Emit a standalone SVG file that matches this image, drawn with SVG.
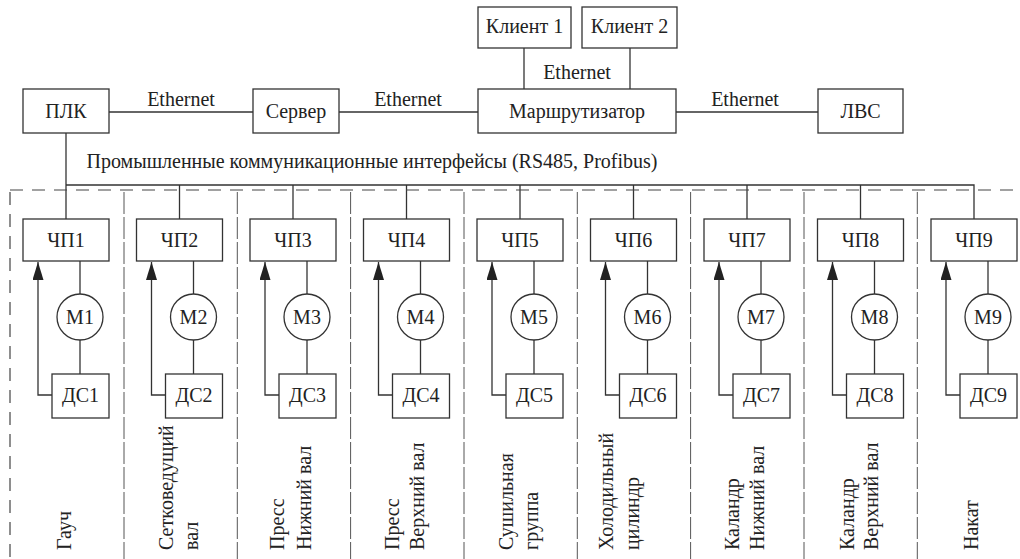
<svg xmlns="http://www.w3.org/2000/svg" width="1020" height="559" viewBox="0 0 1020 559" font-family="'Liberation Serif', 'Times New Roman', 'DejaVu Serif', serif">
<defs>
<style>
.box{fill:#fff;stroke:#333;stroke-width:1.3}
.ln{fill:none;stroke:#333;stroke-width:1.3}
.dash{fill:none;stroke:#444;stroke-width:1.2;stroke-dasharray:13 9}
.sep{fill:none;stroke:#555;stroke-width:1;stroke-dasharray:22 3}
text{font-family:'Liberation Serif','Times New Roman','DejaVu Serif',serif;font-size:20px;fill:#222}
.c{text-anchor:middle}
.v{text-anchor:start}
</style>
<marker id="ah" viewBox="0 0 18 11" refX="18" refY="5.5" markerWidth="18" markerHeight="11" markerUnits="userSpaceOnUse" orient="auto">
<path d="M0,0 L18,5.5 L0,11 Z" fill="#222"/>
</marker>
</defs>
<rect width="1020" height="559" fill="#fff"/>

<g id="connectors">
<line class="ln" x1="109" y1="112" x2="253" y2="112"/>
<line class="ln" x1="339" y1="112" x2="478" y2="112"/>
<line class="ln" x1="676" y1="112" x2="818" y2="112"/>
<line class="ln" x1="524" y1="48" x2="524" y2="89"/>
<line class="ln" x1="630" y1="48" x2="630" y2="89"/>
<line class="ln" x1="66" y1="133" x2="66" y2="219"/>
<polyline class="ln" points="66,185 974,185 974,219"/>
<line class="ln" x1="179.5" y1="185" x2="179.5" y2="219"/>
<line class="ln" x1="293" y1="185" x2="293" y2="219"/>
<line class="ln" x1="406.5" y1="185" x2="406.5" y2="219"/>
<line class="ln" x1="520" y1="185" x2="520" y2="219"/>
<line class="ln" x1="633.5" y1="185" x2="633.5" y2="219"/>
<line class="ln" x1="747" y1="185" x2="747" y2="219"/>
<line class="ln" x1="860.5" y1="185" x2="860.5" y2="219"/>
</g>

<g id="labels-net">
<text x="181" y="106" class="c">Ethernet</text>
<text x="408" y="106" class="c">Ethernet</text>
<text x="745" y="106" class="c">Ethernet</text>
<text x="577" y="79" class="c">Ethernet</text>
<text x="372" y="168" class="c">Промышленные коммуникационные интерфейсы (RS485, Profibus)</text>
</g>

<g id="zones">
<line class="dash" x1="10" y1="190" x2="1020" y2="190"/>
<line class="dash" x1="10" y1="192" x2="10" y2="559"/>
<line class="sep" x1="124" y1="192" x2="124" y2="559"/>
<line class="sep" x1="237.3" y1="192" x2="237.3" y2="559"/>
<line class="sep" x1="350.6" y1="192" x2="350.6" y2="559"/>
<line class="sep" x1="464" y1="192" x2="464" y2="559"/>
<line class="sep" x1="577.3" y1="192" x2="577.3" y2="559"/>
<line class="sep" x1="690.6" y1="192" x2="690.6" y2="559"/>
<line class="sep" x1="804" y1="192" x2="804" y2="559"/>
<line class="sep" x1="917.3" y1="192" x2="917.3" y2="559"/>
</g>

<g id="plk"><rect class="box" x="23" y="89" width="86" height="44"/><text x="66" y="118" class="c">ПЛК</text></g>
<g id="server"><rect class="box" x="253" y="89" width="86" height="44"/><text x="296" y="118" class="c">Сервер</text></g>
<g id="router"><rect class="box" x="478" y="89" width="198" height="44"/><text x="577" y="118" class="c">Маршрутизатор</text></g>
<g id="lan"><rect class="box" x="818" y="89" width="85" height="44"/><text x="860.5" y="118" class="c">ЛВС</text></g>
<g id="client1"><rect class="box" x="478" y="7" width="93" height="41"/><text x="524.5" y="33" class="c">Клиент 1</text></g>
<g id="client2"><rect class="box" x="582" y="7" width="95" height="41"/><text x="629.5" y="33" class="c">Клиент 2</text></g>

<g id="col1">
<rect class="box" x="23" y="219" width="86" height="42"/><text x="66" y="246.5" class="c">ЧП1</text>
<line class="ln" x1="80" y1="261" x2="80" y2="294"/><circle class="box" cx="80" cy="317" r="23"/><text x="80" y="323.5" class="c">М1</text>
<line class="ln" x1="80" y1="340" x2="80" y2="374"/>
<rect class="box" x="52" y="374" width="57" height="44"/><text x="80.5" y="402" class="c">ДС1</text>
<polyline class="ln" points="52,395 38,395 38,262" marker-end="url(#ah)"/>
<text transform="translate(71,550) rotate(-90)" class="v">Гауч</text>
</g>
<g id="col2">
<rect class="box" x="136.5" y="219" width="86" height="42"/><text x="179.5" y="246.5" class="c">ЧП2</text>
<line class="ln" x1="193.5" y1="261" x2="193.5" y2="294"/><circle class="box" cx="193.5" cy="317" r="23"/><text x="193.5" y="323.5" class="c">М2</text>
<line class="ln" x1="193.5" y1="340" x2="193.5" y2="374"/>
<rect class="box" x="165.5" y="374" width="57" height="44"/><text x="194" y="402" class="c">ДС2</text>
<polyline class="ln" points="165.5,395 151.5,395 151.5,262" marker-end="url(#ah)"/>
<text transform="translate(173,550) rotate(-90)" class="v">Сетковедущий</text>
<text transform="translate(198,550) rotate(-90)" class="v">вал</text>
</g>
<g id="col3">
<rect class="box" x="250" y="219" width="86" height="42"/><text x="293" y="246.5" class="c">ЧП3</text>
<line class="ln" x1="307" y1="261" x2="307" y2="294"/><circle class="box" cx="307" cy="317" r="23"/><text x="307" y="323.5" class="c">М3</text>
<line class="ln" x1="307" y1="340" x2="307" y2="374"/>
<rect class="box" x="279" y="374" width="57" height="44"/><text x="307.5" y="402" class="c">ДС3</text>
<polyline class="ln" points="279,395 265,395 265,262" marker-end="url(#ah)"/>
<text transform="translate(284,550) rotate(-90)" class="v">Пресс</text>
<text transform="translate(311,550) rotate(-90)" class="v">Нижний вал</text>
</g>
<g id="col4">
<rect class="box" x="363.5" y="219" width="86" height="42"/><text x="406.5" y="246.5" class="c">ЧП4</text>
<line class="ln" x1="420.5" y1="261" x2="420.5" y2="294"/><circle class="box" cx="420.5" cy="317" r="23"/><text x="420.5" y="323.5" class="c">М4</text>
<line class="ln" x1="420.5" y1="340" x2="420.5" y2="374"/>
<rect class="box" x="392.5" y="374" width="57" height="44"/><text x="421" y="402" class="c">ДС4</text>
<polyline class="ln" points="392.5,395 378.5,395 378.5,262" marker-end="url(#ah)"/>
<text transform="translate(399,550) rotate(-90)" class="v">Пресс</text>
<text transform="translate(424,550) rotate(-90)" class="v">Верхний вал</text>
</g>
<g id="col5">
<rect class="box" x="477" y="219" width="86" height="42"/><text x="520" y="246.5" class="c">ЧП5</text>
<line class="ln" x1="534" y1="261" x2="534" y2="294"/><circle class="box" cx="534" cy="317" r="23"/><text x="534" y="323.5" class="c">М5</text>
<line class="ln" x1="534" y1="340" x2="534" y2="374"/>
<rect class="box" x="506" y="374" width="57" height="44"/><text x="534.5" y="402" class="c">ДС5</text>
<polyline class="ln" points="506,395 492,395 492,262" marker-end="url(#ah)"/>
<text transform="translate(513,550) rotate(-90)" class="v">Сушильная</text>
<text transform="translate(538,550) rotate(-90)" class="v">группа</text>
</g>
<g id="col6">
<rect class="box" x="590.5" y="219" width="86" height="42"/><text x="633.5" y="246.5" class="c">ЧП6</text>
<line class="ln" x1="647.5" y1="261" x2="647.5" y2="294"/><circle class="box" cx="647.5" cy="317" r="23"/><text x="647.5" y="323.5" class="c">М6</text>
<line class="ln" x1="647.5" y1="340" x2="647.5" y2="374"/>
<rect class="box" x="619.5" y="374" width="57" height="44"/><text x="648" y="402" class="c">ДС6</text>
<polyline class="ln" points="619.5,395 605.5,395 605.5,262" marker-end="url(#ah)"/>
<text transform="translate(613,550) rotate(-90)" class="v">Холодильный</text>
<text transform="translate(639,550) rotate(-90)" class="v">цилиндр</text>
</g>
<g id="col7">
<rect class="box" x="704" y="219" width="86" height="42"/><text x="747" y="246.5" class="c">ЧП7</text>
<line class="ln" x1="761" y1="261" x2="761" y2="294"/><circle class="box" cx="761" cy="317" r="23"/><text x="761" y="323.5" class="c">М7</text>
<line class="ln" x1="761" y1="340" x2="761" y2="374"/>
<rect class="box" x="733" y="374" width="57" height="44"/><text x="761.5" y="402" class="c">ДС7</text>
<polyline class="ln" points="733,395 719,395 719,262" marker-end="url(#ah)"/>
<text transform="translate(739,550) rotate(-90)" class="v">Каландр</text>
<text transform="translate(764,550) rotate(-90)" class="v">Нижний вал</text>
</g>
<g id="col8">
<rect class="box" x="817.5" y="219" width="86" height="42"/><text x="860.5" y="246.5" class="c">ЧП8</text>
<line class="ln" x1="874.5" y1="261" x2="874.5" y2="294"/><circle class="box" cx="874.5" cy="317" r="23"/><text x="874.5" y="323.5" class="c">М8</text>
<line class="ln" x1="874.5" y1="340" x2="874.5" y2="374"/>
<rect class="box" x="846.5" y="374" width="57" height="44"/><text x="875" y="402" class="c">ДС8</text>
<polyline class="ln" points="846.5,395 832.5,395 832.5,262" marker-end="url(#ah)"/>
<text transform="translate(854,550) rotate(-90)" class="v">Каландр</text>
<text transform="translate(878,550) rotate(-90)" class="v">Верхний вал</text>
</g>
<g id="col9">
<rect class="box" x="931" y="219" width="86" height="42"/><text x="974" y="246.5" class="c">ЧП9</text>
<line class="ln" x1="988" y1="261" x2="988" y2="294"/><circle class="box" cx="988" cy="317" r="23"/><text x="988" y="323.5" class="c">М9</text>
<line class="ln" x1="988" y1="340" x2="988" y2="374"/>
<rect class="box" x="960" y="374" width="57" height="44"/><text x="988.5" y="402" class="c">ДС9</text>
<polyline class="ln" points="960,395 946,395 946,262" marker-end="url(#ah)"/>
<text transform="translate(978,550) rotate(-90)" class="v">Накат</text>
</g>
</svg>
